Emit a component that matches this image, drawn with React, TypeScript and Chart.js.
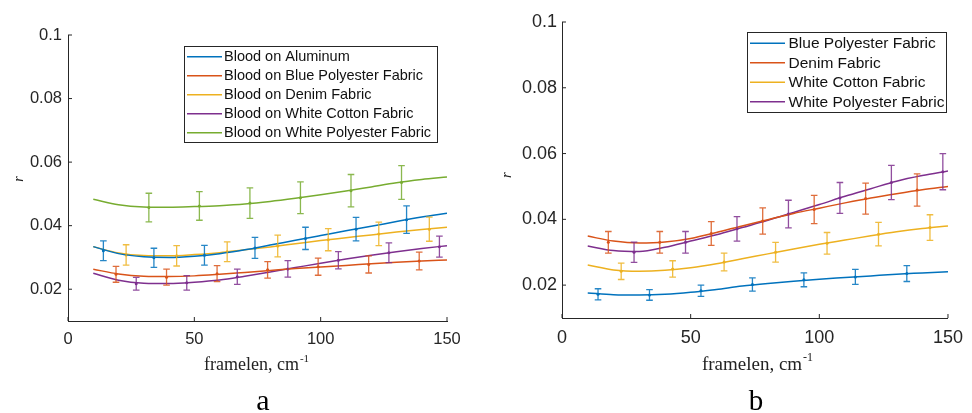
import React, { useEffect, useRef } from 'react';
import { Chart, registerables } from 'chart.js';

Chart.register(...registerables);

// ---- shared axes ----
const FRAME_X = [10, 20, 30, 40, 50, 60, 70, 80, 90, 100, 110, 120, 130, 140, 150];
const X_TICKS = [0, 50, 100, 150];
const X_TICK_LABELS = ['0', '50', '100', '150'];
const Y_TICKS = [0.02, 0.04, 0.06, 0.08, 0.1];
const Y_TICK_LABELS = ['0.02', '0.04', '0.06', '0.08', '0.1'];
const X_MIN = 0;
const X_MAX = 150;
const Y_MIN = 0.01;
const Y_MAX = 0.1;

const BLUE = '#0072BD';
const ORANGE = '#D95319';
const YELLOW = '#EDB120';
const PURPLE = '#7E2F8E';
const GREEN = '#77AC30';
const AXIS = '#262626';

// ---- panel a: blood on different substrates ----
const A_LABELS = [
  'Blood on Aluminum',
  'Blood on Blue Polyester Fabric',
  'Blood on Denim Fabric',
  'Blood on White Cotton Fabric',
  'Blood on White Polyester Fabric',
];

const aAluminumFit = [0.0334, 0.0312, 0.0302, 0.03, 0.0304, 0.0312, 0.0324, 0.0339, 0.0354, 0.0369, 0.0384, 0.0398, 0.0413, 0.0427, 0.0439];
const aAluminumBarX = [14, 34, 54, 74, 94, 114, 134];
const aAluminumBarY = [0.0321, 0.0299, 0.0307, 0.033, 0.036, 0.0389, 0.0419];
const aAluminumBarErr = [0.0031, 0.003, 0.0031, 0.0033, 0.0035, 0.0037, 0.0043];

const aBluePolyFit = [0.0263, 0.0248, 0.0241, 0.024, 0.0242, 0.0247, 0.0253, 0.0259, 0.0265, 0.027, 0.0275, 0.028, 0.0285, 0.0289, 0.0292];
const aBluePolyBarX = [19, 39, 59, 79, 99, 119, 139];
const aBluePolyBarY = [0.0247, 0.0238, 0.0249, 0.0261, 0.0271, 0.0278, 0.0289];
const aBluePolyBarErr = [0.0025, 0.0025, 0.0025, 0.0026, 0.0027, 0.0027, 0.0028];

const aDenimFit = [0.0334, 0.0314, 0.0306, 0.0305, 0.0309, 0.0315, 0.0324, 0.0333, 0.0343, 0.0353, 0.0362, 0.0371, 0.038, 0.0388, 0.0395];
const aDenimBarX = [23, 43, 63, 83, 103, 123, 143];
const aDenimBarY = [0.0308, 0.0305, 0.0318, 0.0336, 0.0356, 0.0374, 0.0389];
const aDenimBarErr = [0.0032, 0.0032, 0.0031, 0.0034, 0.0035, 0.0037, 0.0038];

const aCottonFit = [0.025, 0.0228, 0.0219, 0.0218, 0.0222, 0.0229, 0.0241, 0.0254, 0.0268, 0.0282, 0.0295, 0.0307, 0.0318, 0.0328, 0.0337];
const aCottonBarX = [27, 47, 67, 87, 107, 127, 147];
const aCottonBarY = [0.0217, 0.022, 0.0239, 0.0264, 0.0291, 0.0315, 0.0334];
const aCottonBarErr = [0.002, 0.0023, 0.0024, 0.0026, 0.0027, 0.0031, 0.0033];

const aWhitePolyFit = [0.0483, 0.0466, 0.0459, 0.0458, 0.046, 0.0463, 0.0468, 0.0476, 0.0486, 0.0497, 0.0509, 0.0522, 0.0535, 0.0545, 0.0553];
const aWhitePolyBarX = [32, 52, 72, 92, 112, 132];
const aWhitePolyBarY = [0.0457, 0.0462, 0.0471, 0.0488, 0.051, 0.0536];
const aWhitePolyBarErr = [0.0045, 0.0045, 0.0048, 0.005, 0.0051, 0.0053];

// ---- panel b: fabrics ----
const B_LABELS = ['Blue Polyester Fabric', 'Denim Fabric', 'White Cotton Fabric', 'White Polyester Fabric'];

const bBluePolyFit = [0.0176, 0.0171, 0.017, 0.0172, 0.0178, 0.0187, 0.0197, 0.0205, 0.0212, 0.0218, 0.0223, 0.0228, 0.0233, 0.0237, 0.0241];
const bBluePolyBarX = [14, 34, 54, 74, 94, 114, 134];
const bBluePolyBarY = [0.0172, 0.017, 0.0183, 0.0202, 0.0216, 0.0225, 0.0235];
const bBluePolyBarErr = [0.0017, 0.0016, 0.0017, 0.002, 0.0021, 0.0023, 0.0024];

const bDenimFit = [0.0349, 0.0334, 0.0328, 0.0331, 0.0342, 0.036, 0.038, 0.0399, 0.0418, 0.0434, 0.045, 0.0465, 0.0478, 0.049, 0.05];
const bDenimBarX = [18, 38, 58, 78, 98, 118, 138];
const bDenimBarY = [0.033, 0.033, 0.0357, 0.0395, 0.043, 0.0463, 0.0489];
const bDenimBarErr = [0.0033, 0.0033, 0.0036, 0.004, 0.0043, 0.0047, 0.0049];

const bCottonFit = [0.0261, 0.0246, 0.0242, 0.0245, 0.0253, 0.0265, 0.028, 0.0295, 0.031, 0.0324, 0.0337, 0.035, 0.0362, 0.0372, 0.038];
const bCottonBarX = [23, 43, 63, 83, 103, 123, 143];
const bCottonBarY = [0.0242, 0.0249, 0.027, 0.03, 0.0327, 0.0355, 0.0375];
const bCottonBarErr = [0.0025, 0.0025, 0.0027, 0.003, 0.0033, 0.0036, 0.0039];

const bWhitePolyFit = [0.0319, 0.0305, 0.0302, 0.0315, 0.0334, 0.0353, 0.0375, 0.0397, 0.0421, 0.0445, 0.047, 0.0493, 0.0516, 0.0533, 0.0547];
const bWhitePolyBarX = [28, 48, 68, 88, 108, 128, 148];
const bWhitePolyBarY = [0.03, 0.033, 0.0371, 0.0416, 0.0465, 0.0512, 0.0545];
const bWhitePolyBarErr = [0.0031, 0.0033, 0.0037, 0.0042, 0.0047, 0.0052, 0.0055];

type Series = {
  label: string;
  color: string;
  fit: number[];
  barX: number[];
  barY: number[];
  barErr: number[];
};

type PanelSpec = {
  letter: string;
  series: Series[];
  padding: { left: number; right: number; top: number; bottom: number };
  yAxisWidth: number;
  xAxisHeight: number;
  tickFont: number;
  xTickPad: number;
  yTickPad: number;
  legend: { x: number; y: number; w: number; h: number; row0: number; rowH: number; lineX: number; lineLen: number; textX: number; font: number };
  xLabel: { cx: number; baseline: number; font: number };
  yLabel: { x: number; y: number; font: number };
  letterPos: { cx: number; baseline: number; font: number };
};

const PANEL_A: PanelSpec = {
  letter: 'a',
  series: [
    { label: A_LABELS[0], color: BLUE, fit: aAluminumFit, barX: aAluminumBarX, barY: aAluminumBarY, barErr: aAluminumBarErr },
    { label: A_LABELS[1], color: ORANGE, fit: aBluePolyFit, barX: aBluePolyBarX, barY: aBluePolyBarY, barErr: aBluePolyBarErr },
    { label: A_LABELS[2], color: YELLOW, fit: aDenimFit, barX: aDenimBarX, barY: aDenimBarY, barErr: aDenimBarErr },
    { label: A_LABELS[3], color: PURPLE, fit: aCottonFit, barX: aCottonBarX, barY: aCottonBarY, barErr: aCottonBarErr },
    { label: A_LABELS[4], color: GREEN, fit: aWhitePolyFit, barX: aWhitePolyBarX, barY: aWhitePolyBarY, barErr: aWhitePolyBarErr },
  ],
  padding: { left: 0, right: 39, top: 35, bottom: 0 },
  yAxisWidth: 68,
  xAxisHeight: 92,
  tickFont: 16.5,
  xTickPad: 9,
  yTickPad: 6,
  legend: { x: 184, y: 46, w: 253, h: 96, row0: 10.7, rowH: 19, lineX: 187, lineLen: 35, textX: 224, font: 14.5 },
  xLabel: { cx: 256, baseline: 370, font: 18 },
  yLabel: { x: 19, y: 179, font: 14 },
  letterPos: { cx: 263, baseline: 410, font: 30 },
};

const PANEL_B: PanelSpec = {
  letter: 'b',
  series: [
    { label: B_LABELS[0], color: BLUE, fit: bBluePolyFit, barX: bBluePolyBarX, barY: bBluePolyBarY, barErr: bBluePolyBarErr },
    { label: B_LABELS[1], color: ORANGE, fit: bDenimFit, barX: bDenimBarX, barY: bDenimBarY, barErr: bDenimBarErr },
    { label: B_LABELS[2], color: YELLOW, fit: bCottonFit, barX: bCottonBarX, barY: bCottonBarY, barErr: bCottonBarErr },
    { label: B_LABELS[3], color: PURPLE, fit: bWhitePolyFit, barX: bWhitePolyBarX, barY: bWhitePolyBarY, barErr: bWhitePolyBarErr },
  ],
  padding: { left: 0, right: 16, top: 22, bottom: 0 },
  yAxisWidth: 76,
  xAxisHeight: 95,
  tickFont: 18,
  xTickPad: 9,
  yTickPad: 5,
  legend: { x: 261, y: 32, w: 199, h: 80, row0: 11.3, rowH: 19.5, lineX: 264, lineLen: 35, textX: 302.5, font: 15.5 },
  xLabel: { cx: 271, baseline: 370, font: 19 },
  yLabel: { x: 21, y: 175, font: 15 },
  letterPos: { cx: 270, baseline: 410, font: 29 },
};

// Draws error bars, inward tick marks, the boxed legend and the axis captions.
const panelDecor = {
  id: 'panelDecor',
  afterDatasetsDraw(chart: any) {
    const ctx = chart.ctx as CanvasRenderingContext2D;
    const xs = chart.scales.x;
    const ys = chart.scales.y;
    const cap = 3.3;
    chart.data.datasets.forEach((ds: any) => {
      if (!ds.errors) return;
      ctx.save();
      ctx.strokeStyle = ds.errorColor;
      ctx.globalAlpha = 0.85;
      ctx.lineWidth = 1.3;
      ds.data.forEach((p: any, j: number) => {
        const e = ds.errors[j];
        const px = xs.getPixelForValue(p.x);
        const top = ys.getPixelForValue(p.y + e);
        const bot = ys.getPixelForValue(p.y - e);
        ctx.beginPath();
        ctx.moveTo(px, top);
        ctx.lineTo(px, bot);
        ctx.moveTo(px - cap, top);
        ctx.lineTo(px + cap, top);
        ctx.moveTo(px - cap, bot);
        ctx.lineTo(px + cap, bot);
        ctx.stroke();
      });
      ctx.restore();
    });
  },
  afterDraw(chart: any, _args: any, opts: any) {
    const spec: PanelSpec = opts.spec;
    if (!spec) return;
    const ctx = chart.ctx as CanvasRenderingContext2D;
    const xs = chart.scales.x;
    const ys = chart.scales.y;
    const area = chart.chartArea;

    // inward ticks
    ctx.save();
    ctx.strokeStyle = AXIS;
    ctx.lineWidth = 1;
    ctx.beginPath();
    Y_TICKS.forEach((v) => {
      const py = ys.getPixelForValue(v);
      ctx.moveTo(area.left, py);
      ctx.lineTo(area.left + 4, py);
    });
    X_TICKS.forEach((v) => {
      const px = xs.getPixelForValue(v);
      ctx.moveTo(px, area.bottom);
      ctx.lineTo(px, area.bottom - 4);
    });
    ctx.stroke();
    ctx.restore();

    // legend
    const lg = spec.legend;
    ctx.save();
    ctx.fillStyle = '#ffffff';
    ctx.fillRect(lg.x, lg.y, lg.w, lg.h);
    ctx.strokeStyle = '#262626';
    ctx.lineWidth = 1;
    ctx.strokeRect(lg.x + 0.5, lg.y + 0.5, lg.w, lg.h);
    ctx.font = `${lg.font}px "Liberation Sans", Arial, sans-serif`;
    ctx.textBaseline = 'middle';
    ctx.textAlign = 'left';
    spec.series.forEach((s, i) => {
      const cy = lg.y + lg.row0 + i * lg.rowH;
      ctx.strokeStyle = s.color;
      ctx.lineWidth = 1.5;
      ctx.beginPath();
      ctx.moveTo(lg.lineX, cy);
      ctx.lineTo(lg.lineX + lg.lineLen, cy);
      ctx.stroke();
      ctx.fillStyle = '#111111';
      ctx.fillText(s.label, lg.textX, cy + 0.5);
    });
    ctx.restore();

    // x caption with superscript
    ctx.save();
    ctx.fillStyle = '#222222';
    const xl = spec.xLabel;
    const mainFont = `${xl.font}px "Liberation Serif", "Times New Roman", serif`;
    const supFont = `${Math.round(xl.font * 0.62)}px "Liberation Serif", "Times New Roman", serif`;
    ctx.font = mainFont;
    const mainText = 'framelen, cm';
    const w1 = ctx.measureText(mainText).width;
    ctx.font = supFont;
    const w2 = ctx.measureText('-1').width;
    const x0 = xl.cx - (w1 + w2) / 2;
    ctx.textBaseline = 'alphabetic';
    ctx.textAlign = 'left';
    ctx.font = mainFont;
    ctx.fillText(mainText, x0, xl.baseline);
    ctx.font = supFont;
    ctx.fillText('-1', x0 + w1 + 1, xl.baseline - xl.font * 0.45);

    // y caption
    const yl = spec.yLabel;
    ctx.translate(yl.x, yl.y);
    ctx.rotate(-Math.PI / 2);
    ctx.font = `italic ${yl.font}px "Liberation Serif", "Times New Roman", serif`;
    ctx.textAlign = 'center';
    ctx.textBaseline = 'middle';
    ctx.fillText('r', 0, 0);
    ctx.restore();

    // panel letter
    ctx.save();
    const lp = spec.letterPos;
    ctx.fillStyle = '#000000';
    ctx.font = `${lp.font}px "Liberation Serif", "Times New Roman", serif`;
    ctx.textAlign = 'center';
    ctx.textBaseline = 'alphabetic';
    ctx.fillText(spec.letter, lp.cx, lp.baseline);
    ctx.restore();
  },
};

function buildConfig(spec: PanelSpec): any {
  const datasets: any[] = [];
  spec.series.forEach((s) => {
    datasets.push({
      label: s.label,
      data: FRAME_X.map((x, i) => ({ x, y: s.fit[i] })),
      borderColor: s.color,
      borderWidth: 1.5,
      pointRadius: 0,
      fill: false,
      cubicInterpolationMode: 'monotone',
    });
    datasets.push({
      label: s.label + ' (mean ± sd)',
      data: s.barX.map((x, i) => ({ x, y: s.barY[i] })),
      errors: s.barErr,
      errorColor: s.color,
      showLine: false,
      pointRadius: 1.5,
      pointBorderWidth: 0,
      pointBackgroundColor: s.color,
    });
  });

  const tickFont = { family: '"Liberation Sans", Arial, sans-serif', size: spec.tickFont };

  return {
    type: 'line',
    data: { datasets },
    options: {
      animation: false,
      responsive: true,
      maintainAspectRatio: false,
      layout: { padding: spec.padding },
      plugins: {
        legend: { display: false },
        tooltip: { enabled: false },
        panelDecor: { spec },
      },
      scales: {
        x: {
          type: 'linear',
          min: X_MIN,
          max: X_MAX,
          afterBuildTicks: (sc: any) => {
            sc.ticks = X_TICKS.map((v) => ({ value: v }));
          },
          afterFit: (sc: any) => {
            sc.height = spec.xAxisHeight;
          },
          grid: { display: false, drawTicks: false },
          border: { display: true, color: AXIS, width: 1 },
          ticks: {
            autoSkip: false,
            maxRotation: 0,
            padding: spec.xTickPad,
            color: AXIS,
            font: tickFont,
            callback: (_v: any, i: number) => X_TICK_LABELS[i],
          },
        },
        y: {
          type: 'linear',
          min: Y_MIN,
          max: Y_MAX,
          afterBuildTicks: (sc: any) => {
            sc.ticks = Y_TICKS.map((v) => ({ value: v }));
          },
          afterFit: (sc: any) => {
            sc.width = spec.yAxisWidth;
          },
          grid: { display: false, drawTicks: false },
          border: { display: true, color: AXIS, width: 1 },
          ticks: {
            autoSkip: false,
            padding: spec.yTickPad,
            color: AXIS,
            font: tickFont,
            callback: (_v: any, i: number) => Y_TICK_LABELS[i],
          },
        },
      },
    },
    plugins: [panelDecor],
  };
}

function Panel({ spec, left }: { spec: PanelSpec; left: number }) {
  const ref = useRef<HTMLCanvasElement>(null);
  useEffect(() => {
    if (!ref.current) return;
    const chart = new Chart(ref.current, buildConfig(spec));
    return () => chart.destroy();
  }, [spec]);
  return (
    <div style={{ position: 'absolute', left, top: 0, width: 486, height: 413 }}>
      <canvas ref={ref} />
    </div>
  );
}

export default function App() {
  return (
    <div style={{ position: 'fixed', left: 0, top: 0, width: 972, height: 413, background: '#ffffff', overflow: 'hidden' }}>
      <Panel spec={PANEL_A} left={0} />
      <Panel spec={PANEL_B} left={486} />
    </div>
  );
}
